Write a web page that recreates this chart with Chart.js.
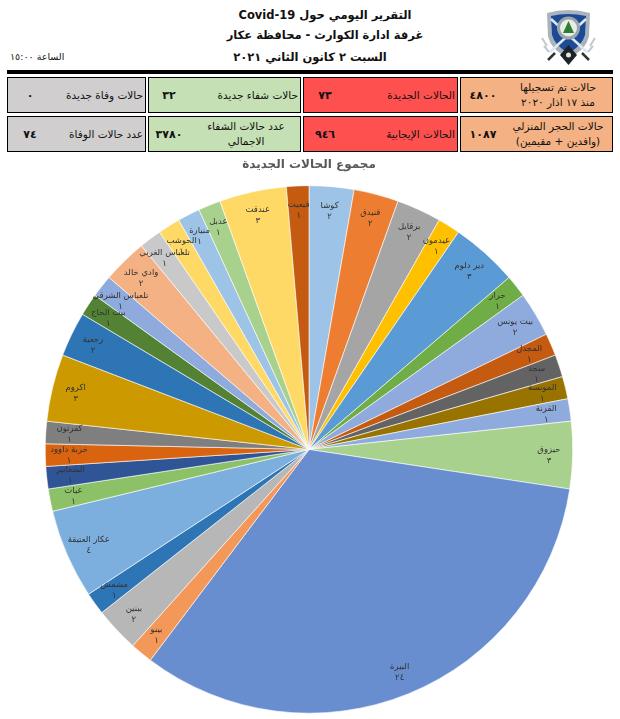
<!DOCTYPE html>
<html lang="ar"><head><meta charset="utf-8">
<script src="https://cdn.jsdelivr.net/npm/chart.js@4"></script>
<style>
html,body{margin:0;padding:0;background:#fff;width:620px;height:719px;overflow:hidden;font-family:"DejaVu Sans",sans-serif;color:#111}
.abs{position:absolute}
.t{left:150px;width:350px;text-align:center;font-weight:bold;font-size:11.5px;line-height:18px;white-space:nowrap;direction:rtl}
.cell{position:absolute;border:1px solid #000;box-sizing:border-box;font-size:10.5px;line-height:15px;display:flex;direction:rtl;align-items:center}
.cell .l{flex:0 0 auto;text-align:center;padding-right:2px}
.cell .v{position:absolute;font-weight:bold;font-size:11px;direction:ltr;text-align:center;width:34px}
canvas{position:absolute;left:0;top:150px}
</style></head><body>
<svg class="abs" style="left:540px;top:8px" width="57" height="58" viewBox="0 0 57 58">
<path d="M7 38 L2 30 M50 38 L55 30 M9 44 L4 38 M48 44 L53 38" stroke="#c4c8cc" stroke-width="2"/>
<path d="M7 5 Q28 -1 50 5 L49 28 Q46 42 28.500 50 Q11 42 8 28 Z" fill="#aab3bd"/>
<path d="M11 8 Q28 4 46 8 L45 27 Q42 38 28.500 45 Q15 38 12 27 Z" fill="#1d4a94"/>
<path d="M11 11 L47 44 M46 11 L10 44" stroke="#dfe8f2" stroke-width="2.500"/>
<path d="M8 52 L15 45 M49 52 L42 45" stroke="#333" stroke-width="2.500"/>
<circle cx="28.500" cy="20" r="11.500" fill="#9aa4ad"/><circle cx="28.500" cy="20" r="8.500" fill="#e8eee6"/>
<path d="M28.500 13 L34 25 H23 Z" fill="#2e7d32"/>
<path d="M28.500 37 L37 47 L28.500 57 L20 47 Z" fill="#1e2126"/><circle cx="28.500" cy="47" r="2.500" fill="#dfe3e6"/>
</svg>
<div class="abs t" style="top:6px">التقرير اليومي حول Covid-19</div>
<div class="abs t" style="top:26px">غرفة ادارة الكوارث - محافظة عكار</div>
<div class="abs t" style="top:48px;left:135px">السبت ٢ كانون الثاني ٢٠٢١</div>
<div class="abs" style="left:10px;top:50px;font-size:9.5px;line-height:14px;direction:rtl">الساعة ١٥:٠٠</div>
<div class="abs" style="left:7px;top:70px;width:606px;height:4px;background:#000"></div>
<div id="cells"></div>
<canvas id="c" width="618" height="569"></canvas>
<script>
const categories=["كوشا","قنيدق","برقايل","عيدمون","دير دلوم","حرار","بيت يونس","المجدل","سجد","المونسة","القرنة","حيزوق","البيرة","بينو","ببنين","مشمش","عكار العتيقة","عيات","الشعابير","خربة داوود","كفرتون","اكروم","رجعية","بيت الحاج","تلعباس الشرقي","وادي خالد","تلعباس الغربي","الحوشب","منيارة","عدبل","عندقت","قبعيت"];
const values=[2,2,2,1,3,1,2,1,1,1,1,3,24,1,2,1,4,1,1,1,1,3,2,1,1,2,1,1,1,1,3,1];
const colors=["#9DC3E6","#ED7D31","#A5A5A5","#FFC000","#5B9BD5","#70AD47","#8FAADC","#C55A11","#636363","#997300","#8FAADC","#A9D18E","#698ED0","#F4985A","#B7B7B7","#2E75B6","#7CAFDD","#8CC168","#2F5597","#D9630F","#7F7F7F","#CC9A00","#2E75B6","#548235","#8FAADC","#F4B183","#C9C9C9","#FFD966","#9DC3E6","#A9D18E","#FFD966","#C55A11"];
const chartTitle="مجموع الحالات الجديدة";
const cellLabels=["حالات تم تسجيلها<br>منذ ١٧ اذار ٢٠٢٠","الحالات الجديدة","حالات شفاء جديدة","حالات وفاة جديدة","حالات الحجر المنزلي<br>(وافدين + مقيمين)","الحالات الإيجابية","عدد حالات الشفاء<br>الاجمالي","عدد حالات الوفاة"];
const cellValues=["٤٨٠٠","٧٣","٣٢","٠","١٠٨٧","٩٤٦","٣٧٨٠","٧٤"];
const cellFills=["#F4B183","#FF5050","#C5E0B4","#D0CECE"];
const cols=[[460,153],[303,155],[148,153],[7,139]];
const rows=[[77,36],[116,36]];
const valueLeft=[5,4,3,5];
const box=document.getElementById('cells');
cellLabels.forEach((t,i)=>{
  const c=i%4,r=i>3?1:0;
  const d=document.createElement('div');d.className='cell';
  d.style.cssText=`left:${cols[c][0]}px;width:${cols[c][1]}px;top:${rows[r][0]}px;height:${rows[r][1]}px;background:${cellFills[c]}`;
  const multi=t.includes('<br>');
  d.innerHTML=`<div class="l" style="${multi?'width:96px;padding-right:6px':''}">${t}</div><div class="v" style="left:${valueLeft[c]}px">${cellValues[i]}</div>`;
  box.appendChild(d);
});
const ar=n=>String(n).replace(/\d/g,x=>"٠١٢٣٤٥٦٧٨٩"[x]);
const pieLabels={id:'pieLabels',afterDatasetsDraw(ch){
  const ctx=ch.ctx,arcs=ch.getDatasetMeta(0).data;
  ctx.save();ctx.textAlign='center';ctx.textBaseline='middle';ctx.fillStyle='#333';ctx.font='8.5px "DejaVu Sans"';
  arcs.forEach((a,i)=>{
    const p=a.getProps(['x','y','startAngle','endAngle','outerRadius']);
    const m=(p.startAngle+p.endAngle)/2,r=p.outerRadius*0.91;
    const x=p.x+Math.cos(m)*r,y=p.y+Math.sin(m)*r;
    ctx.fillText(categories[i],x,y-5);ctx.fillText(ar(values[i]),x,y+6);
  });
  ctx.restore();
}};
new Chart(document.getElementById('c'),{type:'pie',plugins:[pieLabels],
 data:{labels:categories,datasets:[{data:values,backgroundColor:colors,borderColor:'#fff',borderWidth:0.6}]},
 options:{responsive:false,animation:false,layout:{padding:{bottom:5.5}},
  plugins:{legend:{display:false},tooltip:{enabled:false},
   title:{display:true,text:chartTitle,color:'#595959',font:{family:'"DejaVu Sans"',size:12,weight:'bold'},padding:{top:8,bottom:13}}}}});
</script>
</body></html>
